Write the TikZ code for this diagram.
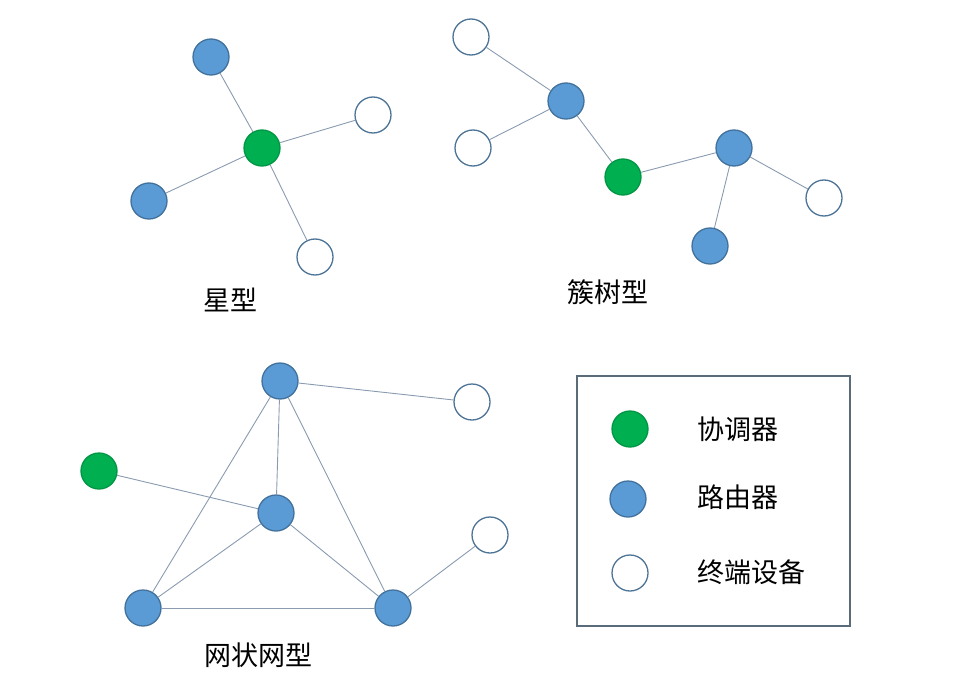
\documentclass[tikz,border=0pt]{standalone}
\usepackage{fontspec}
\newfontfamily\cjk{Noto Sans CJK SC}
\definecolor{coordc}{HTML}{00B050}
\definecolor{routc}{HTML}{5B9BD5}
\definecolor{outl}{HTML}{41719C}
\definecolor{edgec}{HTML}{8A9BB0}
\definecolor{boxc}{HTML}{5A6B7A}
\begin{document}
\begin{tikzpicture}[x=1pt,y=-1pt,
  dev/.style={circle,minimum size=36pt,inner sep=0pt,line width=1.3pt},
  coordn/.style={dev,fill=coordc,draw=coordc!85!black},
  routn/.style={dev,fill=routc,draw=outl},
  endn/.style={dev,fill=white,draw=outl!80!gray},
  link/.style={draw=edgec,line width=0.9pt},
  lbl/.style={font=\cjk\fontsize{27pt}{30pt}\selectfont,inner sep=0pt}]
\useasboundingbox (0,0) rectangle (966,682);
% star
\node[coordn] (s0) at (262,148) {};
\node[routn] (s1) at (211,57) {};
\node[routn] (s2) at (149,201) {};
\node[endn] (s3) at (373,115) {};
\node[endn] (s4) at (315,257) {};
\foreach \n in {s1,s2,s3,s4} \draw[link] (s0) -- (\n);
\node[lbl] (ls) at (230,300) {星型};
% cluster tree
\node[endn] (t1) at (471,37) {};
\node[routn] (t2) at (566,101) {};
\node[endn] (t3) at (473,148) {};
\node[coordn] (t4) at (623,177) {};
\node[routn] (t5) at (734,148) {};
\node[endn] (t6) at (824,198) {};
\node[routn] (t7) at (710,246) {};
\draw[link] (t1) -- (t2);
\draw[link] (t3) -- (t2);
\draw[link] (t2) -- (t4);
\draw[link] (t4) -- (t5);
\draw[link] (t5) -- (t6);
\draw[link] (t5) -- (t7);
\node[lbl] (lt) at (608,292) {簇树型};
% mesh
\node[routn] (m1) at (280,381) {};
\node[endn] (m2) at (472,402) {};
\node[coordn] (m3) at (99,471) {};
\node[routn] (m4) at (276,513) {};
\node[endn] (m5) at (490,535) {};
\node[routn] (m6) at (143,608) {};
\node[routn] (m7) at (393,608) {};
\draw[link] (m1) -- (m2);
\draw[link] (m3) -- (m4);
\draw[link] (m1) -- (m4);
\draw[link] (m1) -- (m6);
\draw[link] (m1) -- (m7);
\draw[link] (m4) -- (m6);
\draw[link] (m4) -- (m7);
\draw[link] (m6) -- (m7);
\draw[link] (m7) -- (m5);
\node[lbl] (lm) at (258,655) {网状网型};
% legend
\node[draw=boxc,line width=2pt,minimum width=273pt,minimum height=250pt,inner sep=0pt] (box) at (713.5,501) {};
\node[coordn] (g1) at (630,429) {};
\node[routn] (g2) at (628,499) {};
\node[endn] (g3) at (630,573) {};
\node[lbl,anchor=west] (x1) at (697,429) {协调器};
\node[lbl,anchor=west] (x2) at (697,497) {路由器};
\node[lbl,anchor=west] (x3) at (697,572) {终端设备};
\end{tikzpicture}
\end{document}
